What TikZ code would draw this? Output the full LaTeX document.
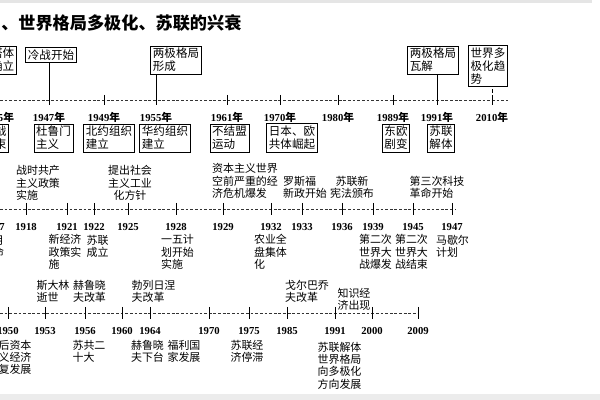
\documentclass[tikz,border=0pt]{standalone}
\usepackage{fontspec}
\setmainfont{Liberation Serif}
\newfontfamily\cjk{Noto Sans CJK SC}
\usetikzlibrary{positioning}

\tikzset{
  evbox/.style={draw,line width=0.6pt,inner sep=1.6pt,align=left,font=\cjk\fontsize{8.2}{9.2}\selectfont},
  evtext/.style={inner sep=0pt,align=left,font=\cjk\fontsize{7.8}{8.7}\selectfont},
  yrlabel/.style={inner sep=0pt,font=\fontsize{7.6}{8}\selectfont\bfseries},
  axisline/.style={line width=0.5pt,black!80,dash pattern=on 2pt off 1.3pt},
  tickline/.style={line width=0.6pt},
}

\begin{document}
\begin{tikzpicture}[x=0.025cm,y=-0.025cm]
  \useasboundingbox (0,0) rectangle (600,400);
  \clip (0,0) rectangle (600,400);
  % bandes grises haut et bas
  \fill[gray!20] (0,0) rectangle (592,3.5);
  \fill[gray!15] (0,394) rectangle (600,400);
  % titre
  \node[inner sep=0pt,anchor=west,font=\cjk\bfseries\fontsize{12.2}{13}\selectfont] (title) at (1,23) {、世界格局多极化、苏联的兴衰};

  % ---- ligne 1 : 1945--2010 ----
  \draw[axisline] (0,100) -- (508,100);
  \foreach \x/\yr in {-2/1945,49/1947,104/1949,156/1955,227/1961,280/1970,338/1980,393/1989,437/1991,492/2010}{
    \coordinate (ta\yr) at (\x,100);
    \draw[tickline] (\x,95) -- (\x,105);
    \node[yrlabel] (ya\yr) at (\x,117) {\yr{\cjk 年}};
  }
  % encadres au-dessus
  \node[evbox] (yalta) at (-9,60) {雅尔塔体\\制的确立};
  \node[evbox] (cold) at (51,55) {冷战开始};
  \node[evbox] (bipol) at (176,60) {两极格局\\形成};
  \node[evbox] (breakup) at (433,60) {两极格局\\瓦解};
  \node[evbox] (multi) at (488,66) {世界多\\极化趋\\势};
  \draw[tickline] (ta1947) -- (ta1947 |- cold.south);
  \draw[tickline] (ta1955) -- (ta1955 |- bipol.south);
  \draw[tickline] (ta1991) -- (ta1991 |- breakup.south);
  \draw[tickline,densely dashed] (ta2010) -- (ta2010 |- multi.south);
  % encadres au-dessous
  \node[evbox] (wwend) at (-5,138) {二战\\结束};
  \node[evbox] (truman) at (53.5,138) {杜鲁门\\主义};
  \node[evbox] (nato) at (109,138) {北约组织\\建立};
  \node[evbox] (warsaw) at (165,138) {华约组织\\建立};
  \node[evbox] (nonal) at (229.5,138) {不结盟\\运动};
  \node[evbox] (japan) at (292,138) {日本、欧\\共体崛起};
  \node[evbox] (eeurope) at (396,138) {东欧\\剧变};
  \node[evbox] (ussrend) at (441,138) {苏联\\解体};

  % ---- ligne 2 : 1917--1947 ----
  \draw[axisline] (0,209) -- (455,209);
  \foreach \x/\yr in {-6/1917,26/1918,67/1921,94/1922,128/1925,176/1928,223/1929,271/1932,302/1933,342/1936,373/1939,413/1945,452/1947}{
    \coordinate (tb\yr) at (\x,209);
    \draw[tickline] (\x,203) -- (\x,215);
    \node[yrlabel] (yb\yr) at (\x,227) {\yr};
  }
  % textes au-dessus
  \node[evtext] (warcomm) at (38,183) {战时共产\\主义政策\\实施};
  \node[evtext,align=center] (industry) at (130,183) {提出社会\\主义工业\\化方针};
  \node[evtext] (crisis) at (245,181) {资本主义世界\\空前严重的经\\济危机爆发};
  \node[evtext] (newdeal) at (305,187) {罗斯福\\新政开始};
  \node[evtext,align=center] (constit) at (352,187) {苏联新\\宪法颁布};
  \node[evtext] (thirdrev) at (437,187) {第三次科技\\革命开始};
  % textes au-dessous
  \node[evtext] (october) at (-7,246.5) {十月\\革命};
  \node[evtext] (nep) at (65,252) {新经济\\政策实\\施};
  \node[evtext] (ussrfound) at (97.5,246.5) {苏联\\成立};
  \node[evtext] (fiveyear) at (177.5,252) {一五计\\划开始\\实施};
  \node[evtext] (collect) at (270.5,252) {农业全\\盘集体\\化};
  \node[evtext] (wwstart) at (375.5,252) {第二次\\世界大\\战爆发};
  \node[evtext] (wwstop) at (411.5,252) {第二次\\世界大\\战结束};
  \node[evtext] (marshall) at (452.5,246.5) {马歇尔\\计划};

  % ---- ligne 3 : 1950--2009 ----
  \draw[axisline] (0,313) -- (418,313);
  \foreach \x/\yr in {8/1950,45/1953,85/1956,122/1960,150/1964,209/1970,249/1975,287/1985,335/1991,372/2000,418/2009}{
    \coordinate (tc\yr) at (\x,313);
    \draw[tickline] (\x,307) -- (\x,319);
    \node[yrlabel] (yc\yr) at (\x,331) {\yr};
  }
  % textes au-dessus
  \node[evtext] (stalin) at (53,291.5) {斯大林\\逝世};
  \node[evtext] (khrref) at (89.5,291.5) {赫鲁晓\\夫改革};
  \node[evtext] (brezh) at (153.5,291.5) {勃列日涅\\夫改革};
  \node[evtext] (gorb) at (307,291.5) {戈尔巴乔\\夫改革};
  \node[evtext] (knowl) at (354,299) {知识经\\济出现};
  % textes au-dessous
  \node[evtext] (postwar) at (9.5,357.5) {战后资本\\主义经济\\恢复发展};
  \node[evtext] (congress) at (89,351) {苏共二\\十大};
  \node[evtext] (khrout) at (147.5,351) {赫鲁晓\\夫下台};
  \node[evtext] (welfare) at (184,351) {福利国\\家发展};
  \node[evtext] (stagn) at (247,351) {苏联经\\济停滞};
  \node[evtext] (multipol) at (339.5,365.5) {苏联解体\\世界格局\\向多极化\\方向发展};
\end{tikzpicture}
\end{document}
